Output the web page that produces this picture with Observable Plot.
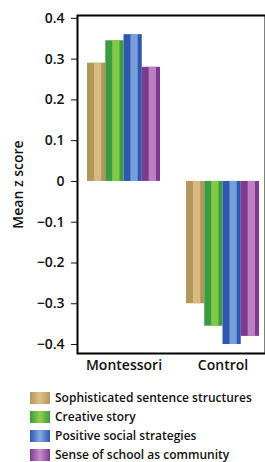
<!DOCTYPE html>
<html><head><meta charset="utf-8">
<script src="https://cdn.jsdelivr.net/npm/d3@7"></script>
<script src="https://cdn.jsdelivr.net/npm/@observablehq/plot@0.6"></script>
<style>
body{margin:0;background:#fff;font-family:"Open Sans",sans-serif;color:#111;}
#chart svg{display:block;overflow:visible;}
#legend{margin-top:10px;margin-left:30px;}
.row{display:flex;align-items:center;height:19px;font-size:12px;font-weight:600;}
.sw{width:20px;height:12px;margin-right:5px;}
</style></head><body><div id="chart"></div><div id="legend"></div><script>
const groups = ["Montessori", "Control"];
const series = ["Sophisticated sentence structures", "Creative story", "Positive social strategies", "Sense of school as community"];
const montessoriValues = [0.29, 0.345, 0.36, 0.28];
const controlValues = [-0.30, -0.355, -0.40, -0.38];
const yTicks = [0.4, 0.3, 0.2, 0.1, 0, -0.1, -0.2, -0.3, -0.4];
const yDomain = [-0.422, 0.407];
const baseColors = ["#b39659", "#3a9c3e", "#2d58ad", "#7d3b90"];
const highlightColors = ["#dcc188", "#92d04c", "#86aae4", "#c88ccb"];

const W = 265, H = 378, ML = 77, MR = 0, MT = 15, MB = 25;
const xOpts = {paddingInner: 26 / 99, paddingOuter: 8 / 99, align: 0.625};
const bw = d3.scaleBand().domain(groups).range([ML, W - MR])
  .paddingInner(xOpts.paddingInner).paddingOuter(xOpts.paddingOuter).align(xOpts.align).bandwidth();
const sub = bw / series.length;

const rows = [];
groups.forEach((g, gi) => {
  const vals = gi === 0 ? montessoriValues : controlValues;
  series.forEach((s, si) => rows.push({group: g, series: s, value: vals[si]}));
});

const barMarks = [];
series.forEach((s, si) => {
  const data = rows.filter(r => r.series === s);
  const left = si * sub, right = (series.length - 1 - si) * sub;
  barMarks.push(Plot.barY(data, {x: "group", y: "value", fill: baseColors[si],
    insetLeft: left, insetRight: right}));
  barMarks.push(Plot.barY(data, {x: "group", y: "value", fill: highlightColors[si], fillOpacity: 0.85,
    insetLeft: left + sub * 0.38, insetRight: right + sub * 0.22}));
});

const plot = Plot.plot({
  width: W, height: H,
  marginTop: MT, marginLeft: ML, marginRight: MR, marginBottom: MB,
  style: {fontFamily: "'Open Sans', sans-serif", fontSize: "14px", fontWeight: 600, color: "#111", background: "#fff"},
  y: {domain: yDomain, ticks: yTicks, tickSize: 6, tickPadding: 7,
      tickFormat: d => d === 0 ? "0" : d3.format(".1f")(d).replace("-", "\u2212"),
      label: "Mean z score", labelAnchor: "center", labelArrow: "none", labelOffset: 64},
  x: {domain: groups, ...xOpts, label: null, tickSize: 0, tickPadding: 7},
  marks: [
    ...barMarks,
    Plot.frame({stroke: "black", strokeWidth: 2})
  ]
});
document.getElementById("chart").appendChild(plot);

const legend = document.getElementById("legend");
series.forEach((s, i) => {
  const row = document.createElement("div");
  row.className = "row";
  const sw = document.createElement("div");
  sw.className = "sw";
  sw.style.background = `linear-gradient(to right, ${baseColors[i]}, ${highlightColors[i]}, ${baseColors[i]})`;
  const t = document.createElement("span");
  t.textContent = s;
  row.appendChild(sw); row.appendChild(t);
  legend.appendChild(row);
});
</script></body></html>
